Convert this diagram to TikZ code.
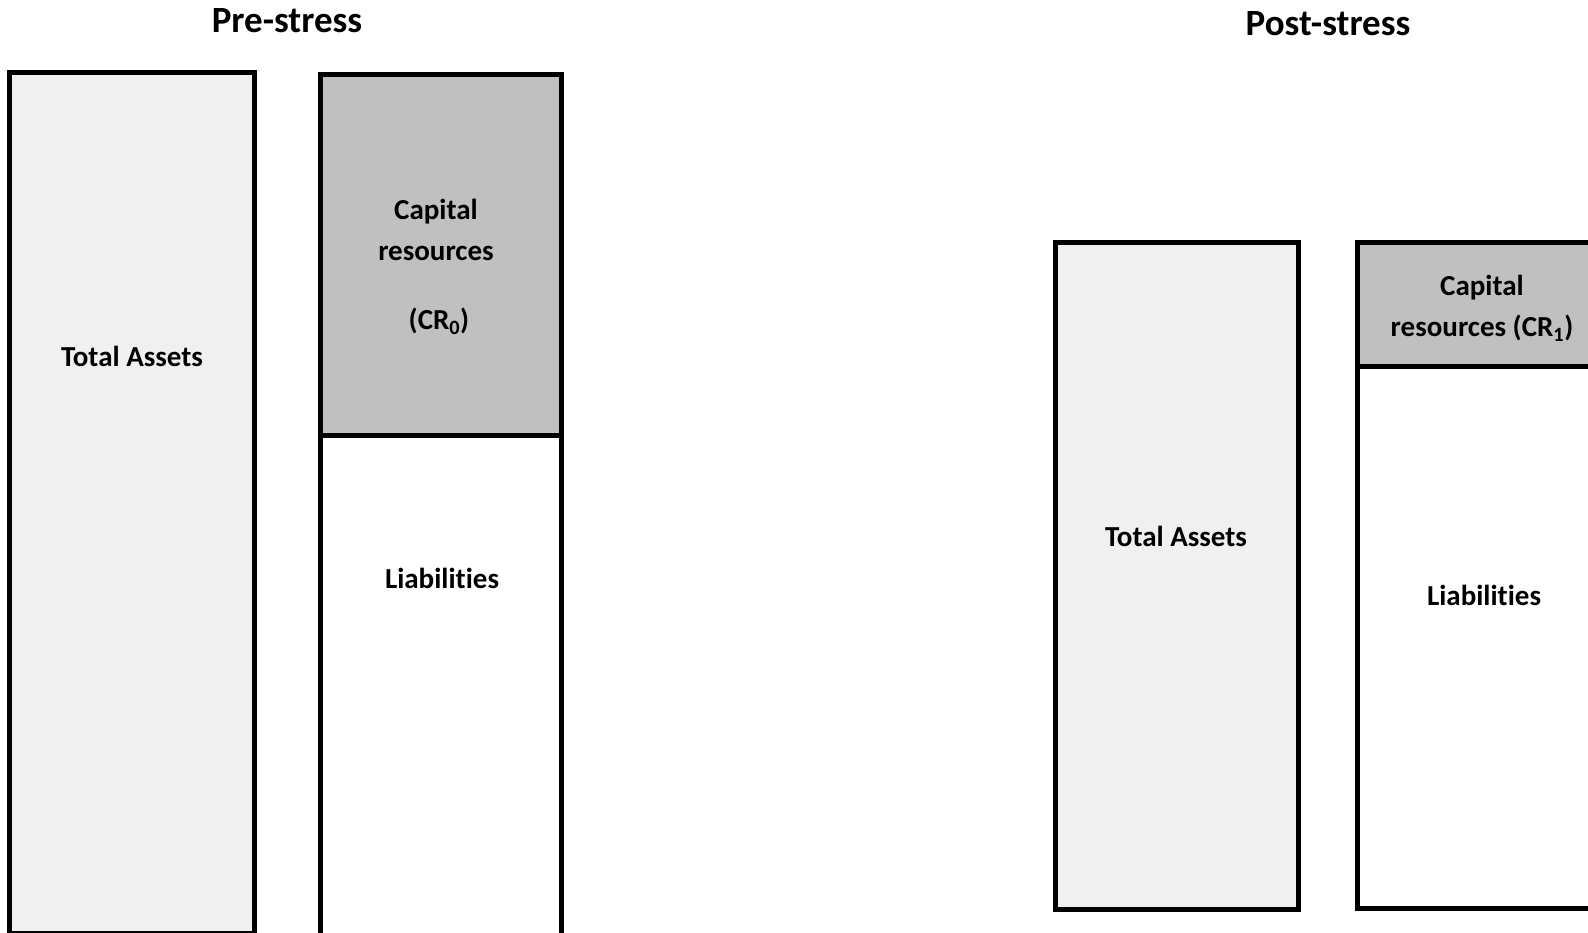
\documentclass[tikz,border=0pt]{standalone}
\usepackage{fontspec}
\setmainfont{Carlito}[Ligatures=NoCommon]
\definecolor{assetgray}{RGB}{240,240,240}
\definecolor{capgray}{RGB}{192,192,192}
\usetikzlibrary{positioning}

\begin{document}
\begin{tikzpicture}[x=1pt,y=-1pt,
  sheet/.style={draw,line width=5pt,inner sep=0pt,outer sep=0pt},
  lbl/.style={align=center,font=\fontsize{29}{35}\selectfont\bfseries},
  ttl/.style={font=\fontsize{37}{44}\selectfont\bfseries}]
  \useasboundingbox (0,0) rectangle (1588,932);
  \clip (0,0) rectangle (1588,932);
  %% Pre-stress balance sheet
  \node[ttl] (pretitle) at (287,21) {Pre-stress};
  \node[sheet,fill=assetgray,minimum width=245pt,minimum height=861pt]
        (preta) at (132,502.5) {};
  \node[sheet,fill=white,minimum width=241pt,minimum height=565pt]
        (preliab) at (441,717.5) {};
  \node[sheet,fill=capgray,minimum width=241pt,minimum height=360.5pt]
        (precr) at (441,254.75) {};
  \node[lbl] at (132,356) {Total Assets};
  \node[lbl] at (436,212) {Capital};
  \node[lbl] at (436,253) {resources};
  \node[lbl] at (439,321) {(CR\textsubscript{0})};
  \node[lbl] at (442,578) {Liabilities};
  %% Post-stress balance sheet
  \node[ttl] (posttitle) at (1328,24) {Post-stress};
  \node[sheet,fill=assetgray,minimum width=243pt,minimum height=667pt]
        (postta) at (1177,576) {};
  \node[sheet,fill=white,minimum width=246pt,minimum height=542.5pt]
        (postliab) at (1480.5,637.25) {};
  \node[sheet,fill=capgray,minimum width=246pt,minimum height=123.5pt]
        (postcr) at (1480.5,304.25) {};
  \node[lbl] at (1176,536) {Total Assets};
  \node[lbl] at (1482,288) {Capital};
  \node[lbl] at (1482,328) {resources (CR\textsubscript{1})};
  \node[lbl] at (1484,595) {Liabilities};
\end{tikzpicture}
\end{document}
